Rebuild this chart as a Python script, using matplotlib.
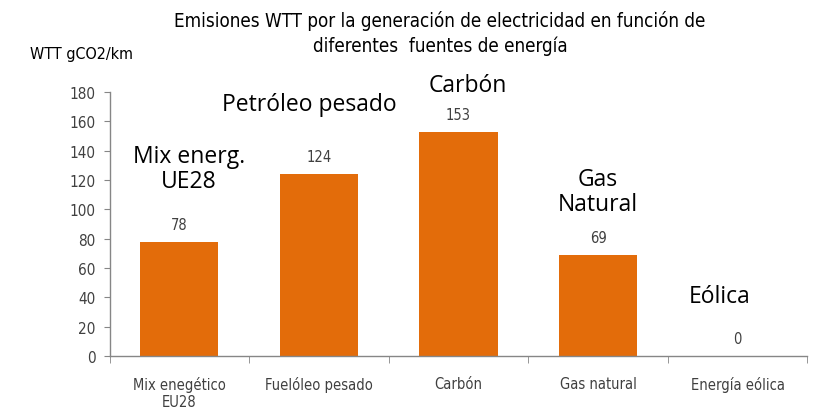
#!/usr/bin/env python

# Bar chart of WTT emissions by electricity source

import numpy
import matplotlib
matplotlib.use('Agg')
import matplotlib.pyplot as plt
from matplotlib.ticker import FixedLocator

categories = ['Mix enegético\nEU28', 'Fuelóleo pesado', 'Carbón',
              'Gas natural', 'Energía eólica']
values = [78, 124, 153, 69, 0]
overlay_labels = ['Mix energ.\nUE28', 'Petróleo pesado', 'Carbón',
                  'Gas\nNatural', 'Eólica']
y_ticks = [0, 20, 40, 60, 80, 100, 120, 140, 160, 180]

plt.rcParams['font.family'] = ['DejaVu Sans']
plt.rcParams['font.stretch'] = 'condensed'

fig = plt.figure(figsize=(8.18, 4.10), dpi=100, facecolor='white')
ax = fig.add_axes([0.134, 0.129, 0.853, 0.644])

txt = '#404040'
x = numpy.arange(len(categories))
ax.bar(x, values, width=0.56, color='#E36C0A', zorder=2)

for xi, v in zip(x, values):
    ax.text(xi, v + 12, '%d' % v, ha='center', va='center',
            fontsize=10.5, color=txt)

# overlaid captions, placed by hand (data units)
over_pos = [(0.07, 128), (-0.07, 172), (0.07, 185), (0.0, 112), (-0.13, 41)]
for xi, lab, (dx, h) in zip(x, overlay_labels, over_pos):
    ax.text(xi + dx, h, lab, ha='center', va='center', fontsize=16.5,
            color='black', family=['Open Sans', 'DejaVu Sans'],
            stretch='normal', linespacing=1.05, clip_on=False)

ax.set_xlim(-0.5, len(categories) - 0.5)
ax.set_ylim(0, 180)
ax.set_yticks(y_ticks)
ax.set_xticks(x)
ax.set_xticklabels(categories, fontsize=10.5, color=txt, linespacing=1.2)
ax.xaxis.set_minor_locator(FixedLocator(numpy.arange(len(categories) + 1) - 0.5))
ax.tick_params(axis='x', which='major', length=0, pad=14)
ax.tick_params(axis='x', which='minor', length=5, color='#868686',
               direction='out')
ax.tick_params(axis='y', length=4, color='#868686', labelsize=11,
               labelcolor=txt, direction='out', pad=6)

for side in ['top', 'right']:
    ax.spines[side].set_visible(False)
for side in ['left', 'bottom']:
    ax.spines[side].set_color('#868686')
    ax.spines[side].set_linewidth(1.0)

fig.text(0.538, 0.918, 'Emisiones WTT por la generación de electricidad en función de\n'
         'diferentes  fuentes de energía', ha='center', va='center',
         fontsize=13.5, color='black', linespacing=1.35)
fig.text(0.037, 0.866, 'WTT gCO2/km', ha='left', va='center',
         fontsize=11.5, color='black')

fig.savefig('out.png', dpi=100)
